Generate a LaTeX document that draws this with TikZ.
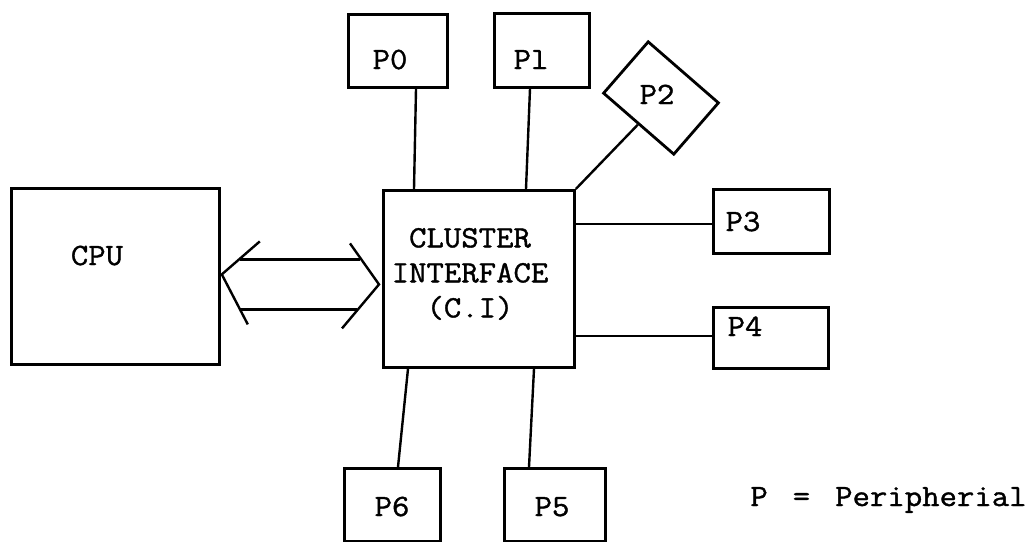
\documentclass[tikz,border=0pt]{standalone}
\usepackage{fontspec}
\newfontfamily\tw[FakeBold=1.2, FakeStretch=1.09]{Latin Modern Mono}
\usetikzlibrary{calc}
\begin{document}
\begin{tikzpicture}[x=1pt,y=-1pt,
  line width=2.8pt,
  box/.style={draw, line width=2.8pt, inner sep=0pt, anchor=north west},
  lbl/.style={inner sep=0pt, font=\tw\fontsize{31}{35}\selectfont, text height=18pt, text depth=0pt},
  wire/.style={line width=2.4pt}
]
\useasboundingbox (0,0) rectangle (1031,541);
% boxes
\node[box, minimum width=208pt, minimum height=176pt] (cpu) at (10,187) {};
\node[box, minimum width=191pt, minimum height=177pt] (ci) at (382,189) {};
\node[box, minimum width=99pt, minimum height=73pt] (p0) at (347,13) {};
\node[box, minimum width=95pt, minimum height=74pt] (p1) at (493,12) {};
\node[draw, line width=2.8pt, inner sep=0pt, minimum width=93pt, minimum height=68pt, rotate=-41] (p2) at (661,98) {};
\node[box, minimum width=116pt, minimum height=64pt] (p3) at (712,188) {};
\node[box, minimum width=115pt, minimum height=61pt] (p4) at (712,306) {};
\node[box, minimum width=96pt, minimum height=73pt] (p6) at (343,467) {};
\node[box, minimum width=101pt, minimum height=73pt] (p5) at (503,467) {};
% labels
\node[lbl] (tcpu) at (97,256) {CPU};
\node[lbl, align=center, text height=, text depth=] (tci) at (470,274) {CLUSTER\\INTERFACE\\(C.I)};
\node[lbl] (t0) at (390,60) {P0};
\node[lbl] (t1) at (531,60) {Pl};
\node[lbl] (t2) at (657,95) {P2};
\node[lbl] (t3) at (743,222) {P3};
\node[lbl] (t4) at (745,327) {P4};
\node[lbl] (t5) at (552,507) {P5};
\node[lbl] (t6) at (392,507) {P6};
\node[lbl, anchor=west] (legend) at (749,497) {P\hspace{25pt}=\hspace{25pt}Peripherial};
% connectors
\draw[wire] ([xshift=69pt]p0.south west) -- ([xshift=32pt]ci.north west);
\draw[wire] ([xshift=37pt]p1.south west) -- ([xshift=144pt]ci.north west);
\draw[wire] (p2.south) -- (ci.north east);
\draw[wire] ([yshift=-35pt]ci.north east) -- ([yshift=-36pt]p3.north west);
\draw[wire] ([yshift=-147pt]ci.north east) -- ([yshift=-30pt]p4.north west);
\draw[wire] ([xshift=26pt]ci.south west) -- ([xshift=55pt]p6.north west);
\draw[wire] ([xshift=152pt]ci.south west) -- ([xshift=26pt]p5.north west);
% bus arrow
\draw[wire] ([shift={(39,-35)}]cpu.east) -- ([shift={(1,-2)}]cpu.east) -- ([shift={(27,48)}]cpu.east);
\draw[wire] ([shift={(-32,-35.5)}]ci.west) -- ([shift={(-3,5.5)}]ci.west) -- ([shift={(-40,49.5)}]ci.west);
\draw[wire] ([shift={(19,-17)}]cpu.east) -- ([shift={(-22,-19.5)}]ci.west);
\draw[wire] ([shift={(19,33)}]cpu.east) -- ([shift={(-25,30.5)}]ci.west);
\end{tikzpicture}
\end{document}
